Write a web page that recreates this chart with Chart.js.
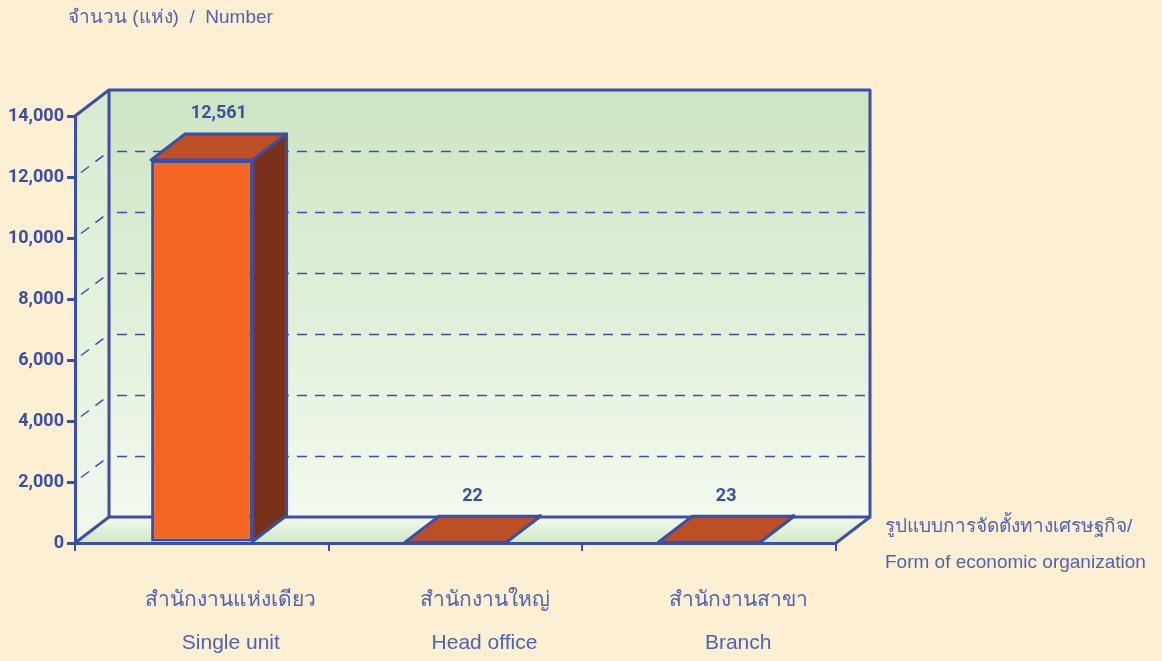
<!DOCTYPE html>
<html>
<head>
<meta charset="utf-8">
<script src="https://cdn.jsdelivr.net/npm/chart.js@4.4.0/dist/chart.umd.min.js"></script>
<style>
  html, body { margin: 0; padding: 0; background: #fcefd4; }
  #wrap { position: relative; width: 1162px; height: 661px; }
</style>
</head>
<body>
<div id="wrap"><canvas id="chart" width="1162" height="661"></canvas></div>
<script>
/* 3D-style bar chart: establishments by form of economic organization */

const categoriesTh = ['สำนักงานแห่งเดียว', 'สำนักงานใหญ่', 'สำนักงานสาขา'];
const categoriesEn = ['Single unit', 'Head office', 'Branch'];
const counts = [12561, 22, 23];
const yTicks = [0, 2000, 4000, 6000, 8000, 10000, 12000, 14000];

const blue = '#3b4fa6';
const textBlue = '#4f63b0';
const DX = 34, DY = -26;   // depth offset of the 3D box

function poly(ctx, pts) {
  ctx.beginPath();
  ctx.moveTo(pts[0][0], pts[0][1]);
  for (let i = 1; i < pts.length; i++) ctx.lineTo(pts[i][0], pts[i][1]);
  ctx.closePath();
}

function line(ctx, x1, y1, x2, y2) {
  ctx.beginPath();
  ctx.moveTo(x1, y1);
  ctx.lineTo(x2, y2);
  ctx.stroke();
}

const box3d = {
  id: 'box3d',
  beforeDraw(chart) {
    const { ctx, chartArea: a, scales: { y } } = chart;
    const L = a.left, R = a.right, T = a.top, B = a.bottom;
    ctx.save();

    // back wall
    let g = ctx.createLinearGradient(0, T + DY, 0, B + DY);
    g.addColorStop(0, '#cde5c3');
    g.addColorStop(1, '#f3f9ef');
    ctx.fillStyle = g;
    ctx.fillRect(L + DX, T + DY, R - L, B - T);

    // side wall
    g = ctx.createLinearGradient(0, T, 0, B);
    g.addColorStop(0, '#d9ecd1');
    g.addColorStop(1, '#f1f8ed');
    ctx.fillStyle = g;
    poly(ctx, [[L, B], [L, T], [L + DX, T + DY], [L + DX, B + DY]]);
    ctx.fill();

    // floor
    g = ctx.createLinearGradient(0, B + DY, 0, B);
    g.addColorStop(0, '#f4faf0');
    g.addColorStop(1, '#d0e7c4');
    ctx.fillStyle = g;
    poly(ctx, [[L, B], [R, B], [R + DX, B + DY], [L + DX, B + DY]]);
    ctx.fill();

    // dashed grid on walls
    ctx.strokeStyle = blue;
    ctx.lineWidth = 1.5;
    ctx.setLineDash([10, 8]);
    y.ticks.forEach(t => {
      if (t.value === yTicks[0] || t.value === yTicks[yTicks.length - 1]) return;
      const py = Math.round(y.getPixelForValue(t.value)) + 0.5;
      line(ctx, L + DX + 8, py + DY, R + DX, py + DY);
      line(ctx, L + 6, py - 5, L + DX, py + DY);
    });
    ctx.setLineDash([]);

    // box outlines
    ctx.lineWidth = 3;
    ctx.lineJoin = 'round';
    ctx.strokeRect(L + DX, T + DY, R - L, B - T);
    line(ctx, L, T, L + DX, T + DY);
    line(ctx, L, B, L + DX, B + DY);
    line(ctx, R, B, R + DX, B + DY);

    // axis titles
    ctx.fillStyle = textBlue;
    ctx.textBaseline = 'middle';
    ctx.textAlign = 'left';
    ctx.font = '19px "Liberation Sans", "Noto Sans", sans-serif';
    ctx.fillText('จำนวน (แห่ง)  /  Number', 68, 18);
    ctx.fillText('รูปแบบการจัดตั้งทางเศรษฐกิจ/', R + 49, B - 16);
    ctx.fillText('Form of economic organization', R + 49, B + 20);
    ctx.restore();
  },
  afterDatasetsDraw(chart) {
    const { ctx } = chart;
    const meta = chart.getDatasetMeta(0);
    ctx.save();
    ctx.strokeStyle = blue;
    ctx.lineWidth = 3;
    ctx.lineJoin = 'round';
    meta.data.forEach((bar, i) => {
      const { x, y, base, width } = bar.getProps(['x', 'y', 'base', 'width'], true);
      const l = x - width / 2, r = x + width / 2;
      // side face
      ctx.fillStyle = '#7a311c';
      poly(ctx, [[r, y], [r + DX, y + DY], [r + DX, base + DY], [r, base]]);
      ctx.fill();
      ctx.stroke();
      // top face
      ctx.fillStyle = '#bd4f27';
      poly(ctx, [[l, y], [r, y], [r + DX, y + DY], [l + DX, y + DY]]);
      ctx.fill();
      ctx.stroke();
      // value label
      ctx.fillStyle = blue;
      ctx.font = 'bold 18px Roboto, sans-serif';
      ctx.textAlign = 'center';
      ctx.textBaseline = 'middle';
      ctx.fillText(counts[i].toLocaleString('en-US'), x + DX / 2, y + DY / 2 - 33);
    });
    ctx.restore();
  }
};

new Chart(document.getElementById('chart'), {
  type: 'bar',
  data: {
    labels: categoriesTh.map((th, i) => [th, categoriesEn[i]]),
    datasets: [{
      data: counts,
      backgroundColor: '#f26522',
      borderColor: blue,
      borderWidth: 3,
      borderSkipped: false,
      categoryPercentage: 1,
      barPercentage: 0.4,
    }],
  },
  options: {
    responsive: false,
    animation: false,
    layout: { padding: { top: 116, right: 326, left: 0, bottom: 0 } },
    plugins: { legend: { display: false }, tooltip: { enabled: false } },
    scales: {
      x: {
        afterFit(scale) { scale.height = 118; },
        grid: { drawOnChartArea: false, offset: true, color: blue, lineWidth: 2, tickLength: 8 },
        border: { color: blue, width: 3 },
        ticks: {
          color: textBlue,
          font: { family: '"Liberation Sans Narrow", "Liberation Sans", sans-serif', size: 21, lineHeight: 2.05 },
          labelOffset: 29,
          padding: 28,
          maxRotation: 0,
        },
      },
      y: {
        min: 0,
        max: 14000,
        afterFit(scale) { scale.width = 75; },
        afterBuildTicks(scale) { scale.ticks = yTicks.map(v => ({ value: v })); },
        grid: { drawOnChartArea: false, color: blue, lineWidth: 3, tickLength: 8 },
        border: { color: blue, width: 3 },
        ticks: {
          color: blue,
          padding: 3,
          font: { family: 'Roboto, sans-serif', size: 18, weight: 'bold' },
          callback: v => v.toLocaleString('en-US'),
        },
      },
    },
  },
  plugins: [box3d],
});
</script>
</body>
</html>
